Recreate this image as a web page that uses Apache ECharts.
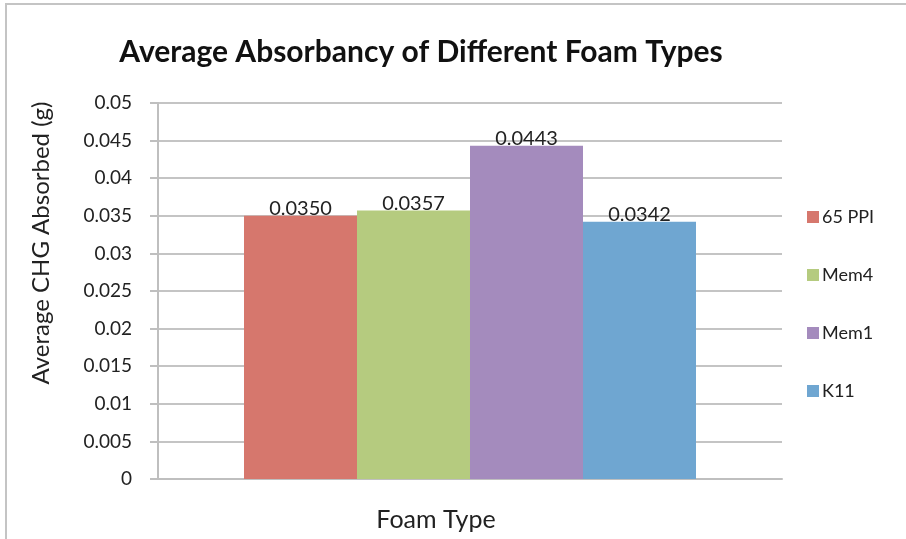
<!DOCTYPE html>
<html>
<head>
<meta charset="utf-8">
<script src="https://cdn.jsdelivr.net/npm/echarts@6/dist/echarts.min.js"></script>
<style>
  html, body { margin: 0; padding: 0; background: #fff; }
  #chart {
    position: absolute; left: 0; top: 0;
    width: 906px; height: 539px;
  }
  .frame {
    position: absolute; left: 5px; top: 3px; width: 901px; height: 536px;
    border-left: 2px solid #c4c4c4; border-top: 2px solid #c4c4c4;
    pointer-events: none;
  }
</style>
</head>
<body>
<div id="chart"></div>
<div class="frame"></div>
<script>
// data
const category = ["Foam Type"];
const foams = ["65 PPI", "Mem4", "Mem1", "K11"];
const absorbed = [0.0350, 0.0357, 0.0443, 0.0342];
const colors = ["#d6776d", "#b5cb7f", "#a48bbd", "#6fa6d1"];

const font = "Lato, 'Open Sans', sans-serif";

let myChart = echarts.init(document.getElementById("chart"));

myChart.setOption({
  animation: false,
  textStyle: { fontFamily: font },
  title: {
    text: "Average Absorbancy of Different Foam Types",
    left: 416,
    top: 32,
    textAlign: "center",
    textStyle: { fontFamily: font, fontSize: 30, fontWeight: "bold", color: "#111" },
  },
  legend: {
    orient: "vertical",
    left: 802,
    top: 203,
    itemWidth: 12,
    itemHeight: 12,
    itemGap: 40,
    icon: "rect",
    textStyle: { fontFamily: font, fontSize: 18, color: "#222", padding: [0, 0, 0, -2] },
    data: foams,
  },
  grid: {
    left: 158,
    right: 124,
    top: 103,
    bottom: 60,
  },
  xAxis: {
    type: "category",
    data: category,
    name: "Foam Type",
    nameLocation: "middle",
    nameGap: 28,
    nameTextStyle: { fontFamily: font, fontSize: 25, color: "#222", padding: [0, 68, 0, 0] },
    axisLabel: { show: false },
    axisTick: { show: false },
    axisLine: { lineStyle: { color: "#bfbfbf", width: 2 } },
  },
  yAxis: {
    type: "value",
    min: 0,
    max: 0.05,
    interval: 0.005,
    name: "Average CHG Absorbed (g)",
    nameLocation: "middle",
    nameGap: 105,
    nameTextStyle: { fontFamily: font, fontSize: 24, color: "#222", padding: [0, 0, 0, 96] },
    axisLabel: { fontFamily: font, fontSize: 19, color: "#222", margin: 26 },
    axisLine: { show: true, lineStyle: { color: "#bfbfbf", width: 2 } },
    axisTick: { show: true, length: 8, lineStyle: { color: "#bfbfbf", width: 2 } },
    splitLine: { lineStyle: { color: "#c4c4c4", width: 2 } },
  },
  series: foams.map((name, i) => ({
    name: name,
    type: "bar",
    barWidth: 113,
    barGap: "0%",
    itemStyle: { color: colors[i] },
    label: {
      show: true,
      position: "top",
      distance: -3,
      fontFamily: font,
      fontSize: 20,
      color: "#222",
      formatter: (p) => p.value.toFixed(4),
    },
    data: [absorbed[i]],
  })),
});
</script>
</body>
</html>
